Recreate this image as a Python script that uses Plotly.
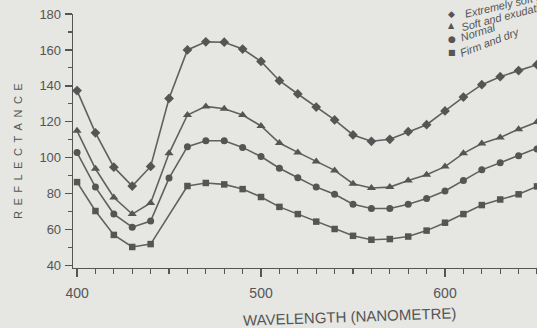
import math
import plotly.graph_objects as go

# ---------------- data ----------------
wavelength = [400, 410, 420, 430, 440, 450, 460, 470, 480, 490, 500, 510, 520,
              530, 540, 550, 560, 570, 580, 590, 600, 610, 620, 630, 640, 650, 660, 670]

extreme = [137.4, 113.9, 94.8, 84.3, 95.2, 133.0, 160.0, 164.5, 164.3, 160.5, 153.6, 142.9, 135.5,
           128.2, 121.1, 112.7, 109.2, 110.3, 114.5, 118.4, 126.1, 133.8, 140.7, 145.1, 148.5, 151.8, 156.0, 159.5]
soft = [115.0, 93.9, 77.9, 68.7, 74.9, 102.5, 123.8, 128.6, 127.3, 123.8, 117.7, 108.2, 103.0,
        97.9, 93.0, 85.6, 83.2, 83.7, 87.4, 90.6, 95.1, 102.5, 108.0, 111.3, 115.9, 119.9, 125.1, 130.5]
normal = [102.9, 83.7, 68.7, 61.4, 64.8, 88.7, 106.2, 109.5, 109.5, 105.8, 100.7, 94.2, 88.9,
          83.7, 79.7, 74.2, 71.8, 71.8, 74.2, 77.4, 81.5, 87.4, 93.3, 97.2, 101.2, 104.9, 109.5, 114.0]
firm = [86.5, 70.4, 57.1, 50.4, 52.0, None, 84.3, 86.0, 85.2, 82.6, 78.2, 72.7, 68.7,
        64.5, 60.4, 56.6, 54.4, 54.8, 56.2, 59.5, 63.9, 68.7, 73.7, 76.8, 79.7, 84.1, 90.2, 96.0]

series_names = ["Extremely soft and exudative", "Soft and exudative", "Normal", "Firm and dry"]
series_values = [extreme, soft, normal, firm]

x_tick_vals = [400, 500, 600]
y_tick_vals = [40, 60, 80, 100, 120, 140, 160, 180]

# ---------------- style ----------------
BG = "#e6e6e3"
INK = "#555555"
LINE = "#606060"
FONT = "Liberation Sans, Arial, sans-serif"
symbols = ["diamond", "triangle-up", "circle", "square"]
msizes = [7.5, 8, 7, 6.5]
glyphs = ["\u25c6", "\u25b2", "\u25cf", "\u25a0"]

W, H = 537, 328
ML, MR, MT, MB = 73, 0, 14, 60
PW, PH = W - ML - MR, H - MT - MB


def px(x, y):
    return (x - ML) / PW, (H - MB - y) / PH


fig = go.Figure()
for name, vals, sym, ms in zip(series_names, series_values, symbols, msizes):
    fig.add_trace(go.Scatter(
        x=wavelength, y=vals, name=name, mode="lines+markers",
        connectgaps=True, showlegend=False,
        line=dict(color=LINE, width=1.6),
        marker=dict(symbol=sym, size=ms, color=INK),
    ))

annotations = []
# axis titles
sp = "\u2002"
xr, yr = px(18.5, 151.5)
annotations.append(dict(xref="paper", yref="paper", x=xr, y=yr, text=sp.join("REFLECTANCE"),
                        textangle=-90, showarrow=False, xanchor="center", yanchor="middle",
                        font=dict(family=FONT, size=11, color=INK)))
xr, yr = px(349, 316)
annotations.append(dict(xref="paper", yref="paper", x=xr, y=yr, text="WAVELENGTH (NANOMETRE)",
                        textangle=-2, showarrow=False, xanchor="center", yanchor="middle",
                        font=dict(family=FONT, size=15, color=INK)))

# legend (rotated text, as printed)
leg_glyph_pos = [(451, 14), (451, 25.5), (451.5, 39), (451.5, 52.3)]
leg_text_start = [(461.7, 15), (460.7, 27.3), (461.7, 37.3), (460.7, 52.7)]
leg_angles = [13, 14.6, 17.7, 21]
leg_lengths = [148, 92, 35, 62]
glyph_sizes = [9, 8, 9, 8]
for g, gp, ts, ang, ln, name, gs in zip(glyphs, leg_glyph_pos, leg_text_start, leg_angles,
                                        leg_lengths, series_names, glyph_sizes):
    gx, gy = px(*gp)
    annotations.append(dict(xref="paper", yref="paper", x=gx, y=gy, text=g, showarrow=False,
                            xanchor="center", yanchor="middle",
                            font=dict(family="DejaVu Sans", size=gs, color=INK)))
    a = math.radians(ang)
    cx = ts[0] + ln / 2 * math.cos(a)
    cy = ts[1] - ln / 2 * math.sin(a)
    tx, ty = px(cx, cy)
    annotations.append(dict(xref="paper", yref="paper", x=tx, y=ty, text="<i>" + name + "</i>",
                            textangle=-ang, showarrow=False, xanchor="center", yanchor="middle",
                            font=dict(family=FONT, size=11, color=INK)))

fig.update_layout(
    width=W, height=H,
    margin=dict(l=ML, r=MR, t=MT, b=MB, pad=0),
    paper_bgcolor=BG, plot_bgcolor=BG,
    showlegend=False,
    annotations=annotations,
    font=dict(family=FONT, color=INK),
)
fig.update_xaxes(
    range=[397.8, 650], showgrid=False, zeroline=False,
    showline=True, linecolor=INK, linewidth=1.3,
    tickmode="array", tickvals=x_tick_vals, ticks="outside", ticklen=8, tickwidth=1.2,
    tickcolor=INK, tickfont=dict(family=FONT, size=14, color=INK), ticklabelstandoff=4,
    minor=dict(dtick=10, tick0=400, ticks="outside", ticklen=5, tickwidth=1.1, tickcolor=INK, showgrid=False),
)
fig.update_yaxes(
    range=[38.7, 180], showgrid=False, zeroline=False,
    showline=True, linecolor=INK, linewidth=1.3,
    tickmode="array", tickvals=y_tick_vals, ticks="outside", ticklen=7, tickwidth=1.2,
    tickcolor=INK, tickfont=dict(family=FONT, size=13, color=INK), ticklabelstandoff=1,
    minor=dict(dtick=10, tick0=40, ticks="outside", ticklen=4, tickwidth=1.1, tickcolor=INK, showgrid=False),
)

fig.write_html(
    "out.html",
    config={"displayModeBar": False, "staticPlot": True},
    post_script="document.body.style.margin='0';document.body.style.background='%s';"
                "document.body.style.overflow='hidden';" % BG,
)
